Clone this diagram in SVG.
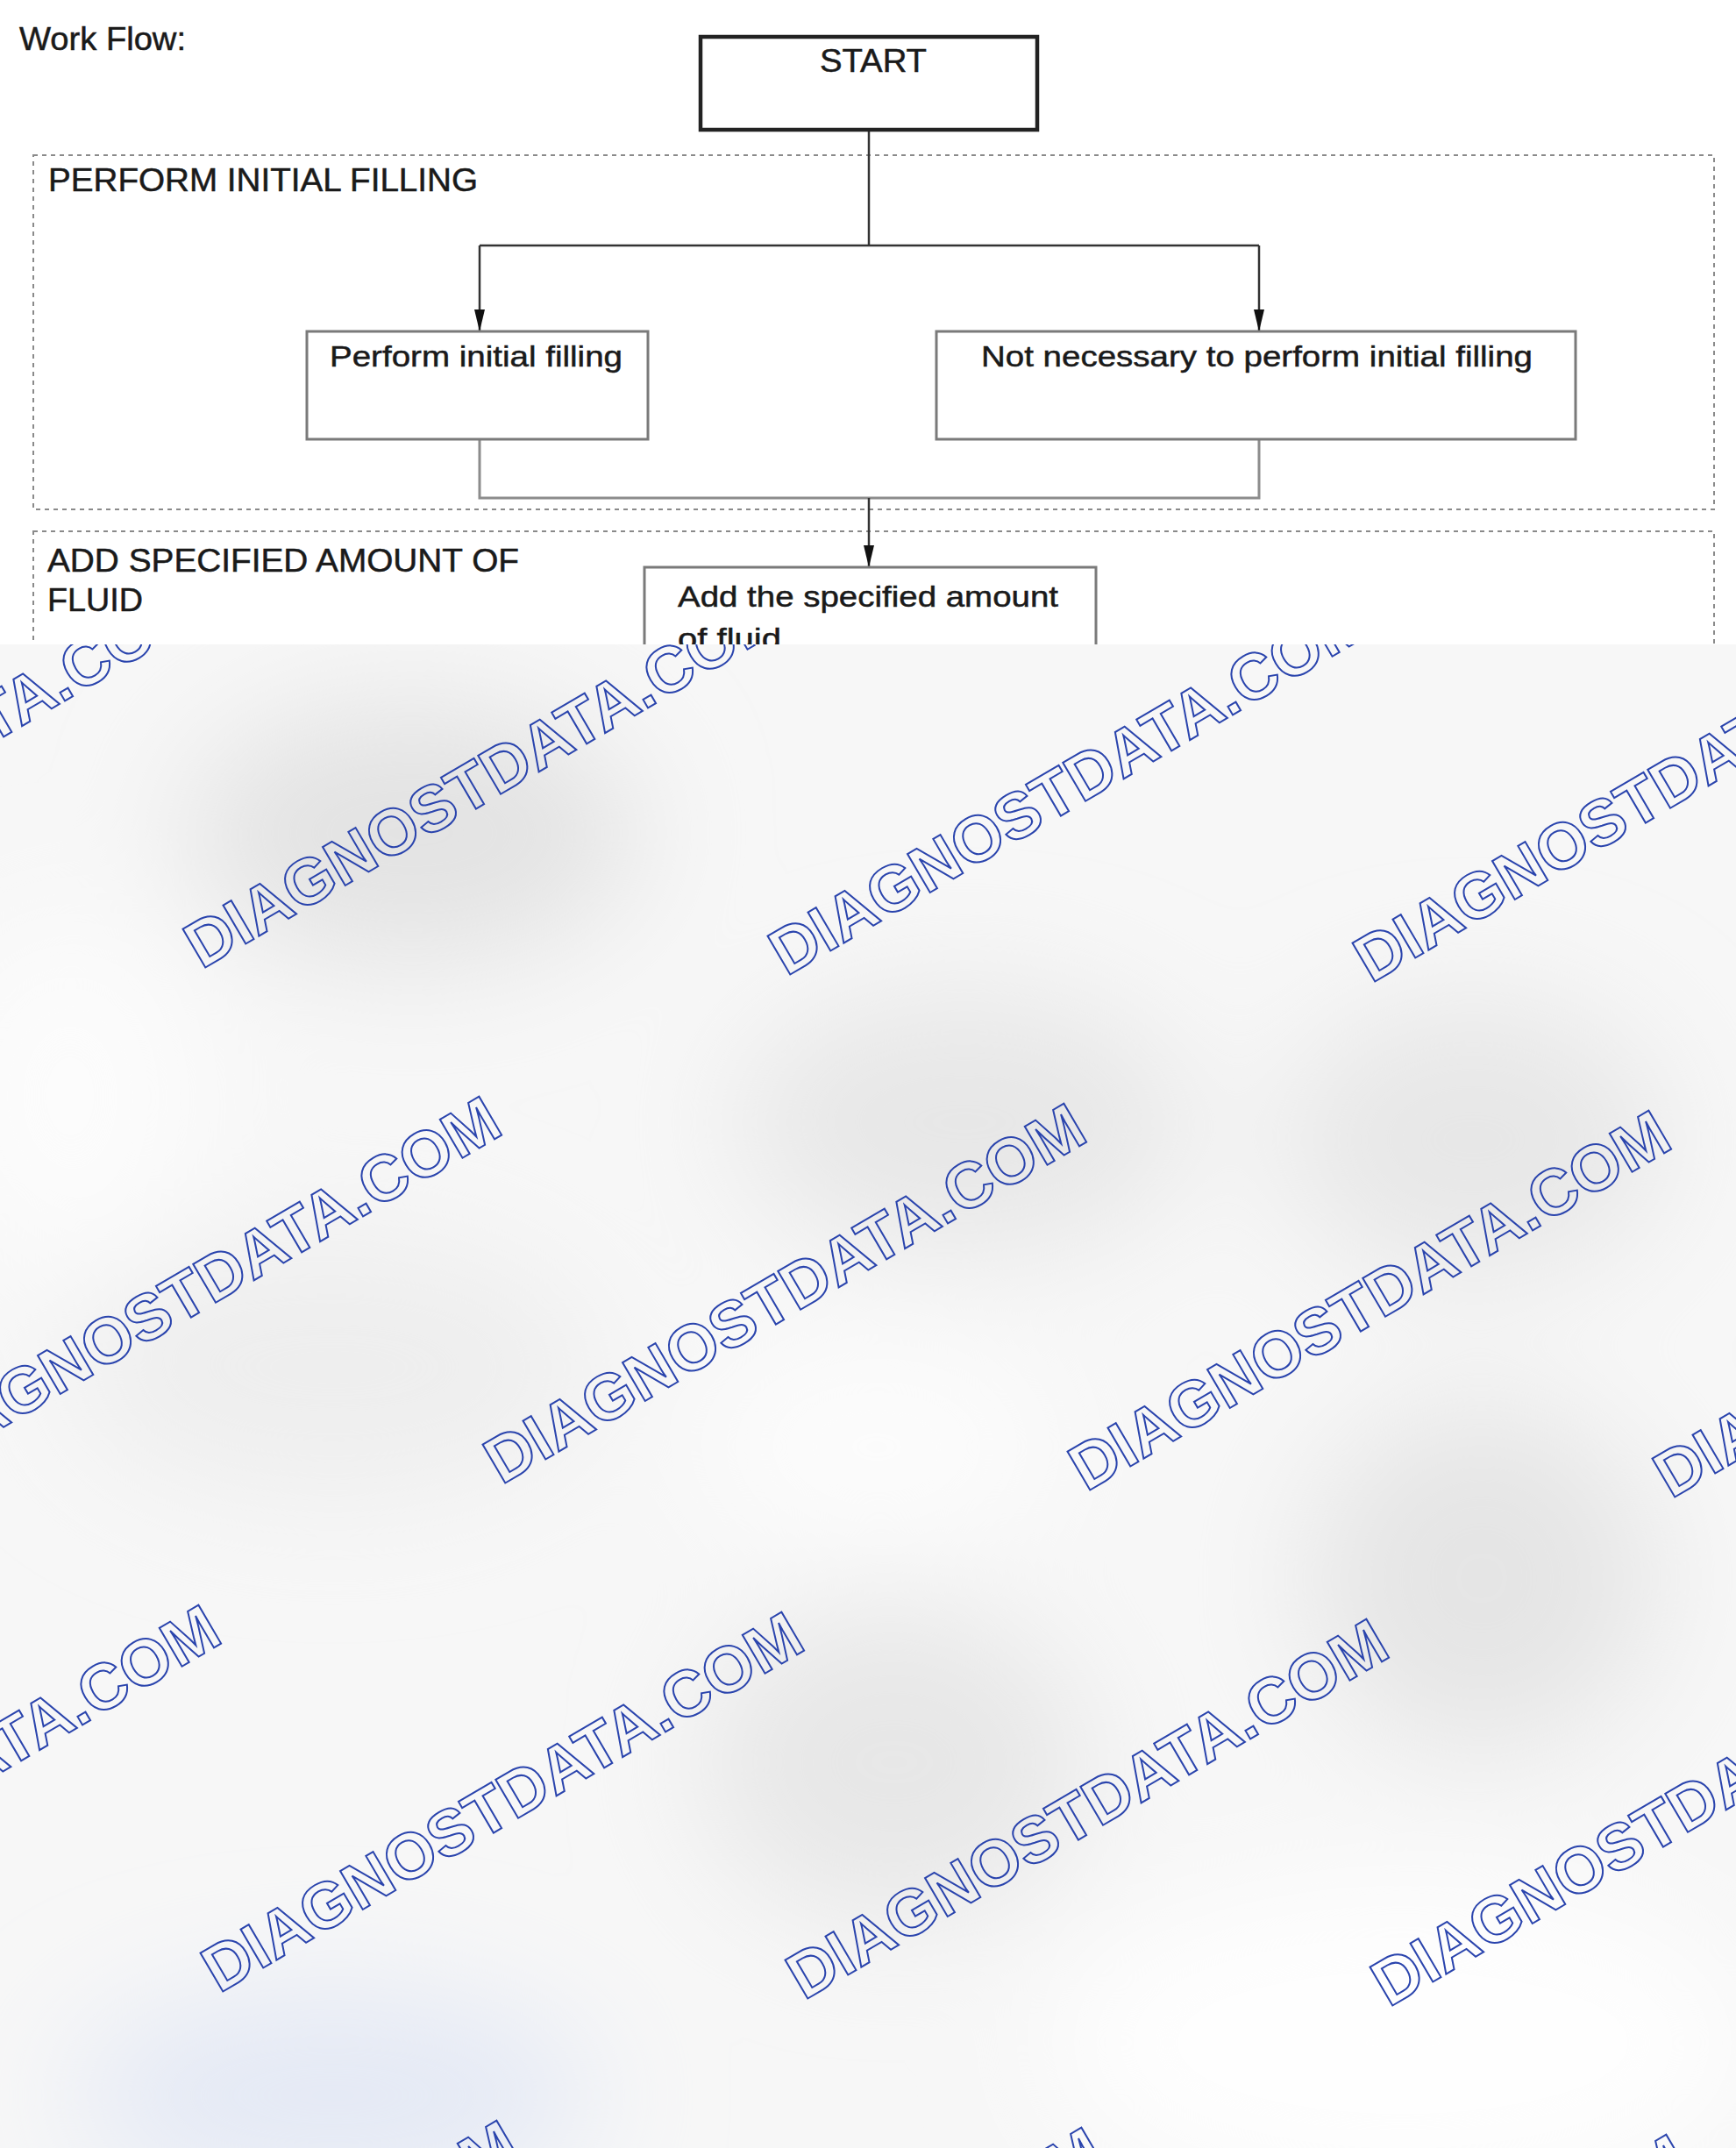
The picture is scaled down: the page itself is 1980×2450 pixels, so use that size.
<svg xmlns="http://www.w3.org/2000/svg" width="1980" height="2450" viewBox="0 0 1980 2450">
  <defs>
    <style>
      .lbl { font-family: "Liberation Sans", Arial, sans-serif; fill: #1a1a1a; stroke: #1a1a1a; stroke-width: 0.5; }
      .hdr { font-size: 36px; }
      .box { fill: #ffffff; stroke: #7a7a7a; stroke-width: 3; }
      .start { fill: #ffffff; stroke: #222222; stroke-width: 4.5; }
      .zone { fill: none; stroke: #8a8a8a; stroke-width: 2; stroke-dasharray: 5 5; }
      .conn { fill: none; stroke: #333333; stroke-width: 2.5; }
      .conn2 { fill: none; stroke: #8c8c8c; stroke-width: 3; }
      .wm { font-family: "Liberation Sans", Arial, sans-serif; font-weight: bold; font-size: 74px; fill: none; stroke: #2a44ad; stroke-width: 2; }
    </style>
    <marker id="arr" markerUnits="userSpaceOnUse" markerWidth="26" markerHeight="14" refX="25" refY="7" orient="auto">
      <path d="M0,1 L25,7 L0,13 z" fill="#111111"/>
    </marker>
    <clipPath id="top"><rect x="0" y="0" width="1980" height="735"/></clipPath>
    <clipPath id="bottom"><rect x="0" y="735" width="1980" height="1715"/></clipPath>
    <filter id="blur" x="-50%" y="-50%" width="200%" height="200%"><feGaussianBlur stdDeviation="70"/></filter>
  </defs>

  <!-- lower watermark area -->
  <g id="background" clip-path="url(#bottom)">
    <rect x="0" y="735" width="1980" height="1715" fill="#f7f7f7"/>
    <g filter="url(#blur)">
      <ellipse cx="470" cy="950" rx="260" ry="150" fill="#e3e3e3"/>
      <ellipse cx="1100" cy="1280" rx="260" ry="150" fill="#e7e7e7"/>
      <ellipse cx="1680" cy="1300" rx="220" ry="160" fill="#e7e7e7"/>
      <ellipse cx="1690" cy="1800" rx="200" ry="200" fill="#e5e5e5"/>
      <ellipse cx="1020" cy="2010" rx="220" ry="180" fill="#e7e7e7"/>
      <ellipse cx="380" cy="1560" rx="300" ry="150" fill="#eeeeee"/>
      <ellipse cx="380" cy="2390" rx="300" ry="120" fill="#e4e9f5"/>
      <ellipse cx="1600" cy="2330" rx="400" ry="180" fill="#fefefe"/>
      <ellipse cx="1000" cy="1650" rx="200" ry="120" fill="#fcfcfc"/>
      <ellipse cx="80" cy="1250" rx="150" ry="200" fill="#fcfcfc"/>
    </g>
  </g>
  <g id="watermark" clip-path="url(#bottom)">
    <text class="wm" transform="translate(-435,1098) rotate(-30.4)">DIAGNOSTDATA.COM</text>
    <text class="wm" transform="translate(230,1106) rotate(-30.4)">DIAGNOSTDATA.COM</text>
    <text class="wm" transform="translate(897,1114) rotate(-30.4)">DIAGNOSTDATA.COM</text>
    <text class="wm" transform="translate(1564,1122) rotate(-30.4)">DIAGNOSTDATA.COM</text>
    <text class="wm" transform="translate(-95,1686) rotate(-30.4)">DIAGNOSTDATA.COM</text>
    <text class="wm" transform="translate(572,1694) rotate(-30.4)">DIAGNOSTDATA.COM</text>
    <text class="wm" transform="translate(1239,1702) rotate(-30.4)">DIAGNOSTDATA.COM</text>
    <text class="wm" transform="translate(1906,1710) rotate(-30.4)">DIAGNOSTDATA.COM</text>
    <text class="wm" transform="translate(-415,2266) rotate(-30.4)">DIAGNOSTDATA.COM</text>
    <text class="wm" transform="translate(250,2274) rotate(-30.4)">DIAGNOSTDATA.COM</text>
    <text class="wm" transform="translate(917,2282) rotate(-30.4)">DIAGNOSTDATA.COM</text>
    <text class="wm" transform="translate(1584,2290) rotate(-30.4)">DIAGNOSTDATA.COM</text>
    <text class="wm" transform="translate(-75,2854) rotate(-30.4)">DIAGNOSTDATA.COM</text>
    <text class="wm" transform="translate(592,2862) rotate(-30.4)">DIAGNOSTDATA.COM</text>
    <text class="wm" transform="translate(1259,2870) rotate(-30.4)">DIAGNOSTDATA.COM</text>
  </g>

  <!-- diagram -->
  <g id="diagram" clip-path="url(#top)">
    <rect x="0" y="0" width="1980" height="735" fill="#ffffff"/>
    <text class="lbl hdr" x="22" y="57" textLength="190" lengthAdjust="spacingAndGlyphs">Work Flow:</text>

    <g id="zone-initial-filling">
      <rect class="zone" x="38" y="177" width="1917" height="404"/>
      <text class="lbl hdr" x="55" y="218" textLength="490" lengthAdjust="spacingAndGlyphs">PERFORM INITIAL FILLING</text>
    </g>
    <g id="zone-add-fluid">
      <rect class="zone" x="38" y="606" width="1917" height="400"/>
      <text class="lbl hdr" x="54" y="652" textLength="538" lengthAdjust="spacingAndGlyphs">ADD SPECIFIED AMOUNT OF</text>
      <text class="lbl hdr" x="54" y="697" textLength="109" lengthAdjust="spacingAndGlyphs">FLUID</text>
    </g>

    <g id="connectors">
      <path class="conn" d="M991,148 V280"/>
      <path class="conn" d="M547,280 H1436"/>
      <path class="conn" d="M547,280 V378" marker-end="url(#arr)"/>
      <path class="conn" d="M1436,280 V378" marker-end="url(#arr)"/>
      <path class="conn2" d="M547,501 V568 H1436 V501"/>
      <path class="conn" d="M991,568 V647" marker-end="url(#arr)"/>
    </g>

    <g id="node-start">
      <rect class="start" x="799" y="42" width="384" height="106"/>
      <text class="lbl" x="996" y="82" font-size="37" text-anchor="middle" textLength="122" lengthAdjust="spacingAndGlyphs">START</text>
    </g>
    <g id="node-perform">
      <rect class="box" x="350" y="378" width="389" height="123"/>
      <text class="lbl" x="376" y="418" font-size="34" textLength="334" lengthAdjust="spacingAndGlyphs">Perform initial filling</text>
    </g>
    <g id="node-not-necessary">
      <rect class="box" x="1068" y="378" width="729" height="123"/>
      <text class="lbl" x="1119" y="418" font-size="34" textLength="629" lengthAdjust="spacingAndGlyphs">Not necessary to perform initial filling</text>
    </g>
    <g id="node-add-fluid">
      <rect class="box" x="735" y="647" width="515" height="200"/>
      <text class="lbl" x="773" y="692" font-size="34" textLength="434" lengthAdjust="spacingAndGlyphs">Add the specified amount</text>
      <text class="lbl" x="773" y="740" font-size="34" textLength="118" lengthAdjust="spacingAndGlyphs">of fluid</text>
    </g>
  </g>
</svg>
